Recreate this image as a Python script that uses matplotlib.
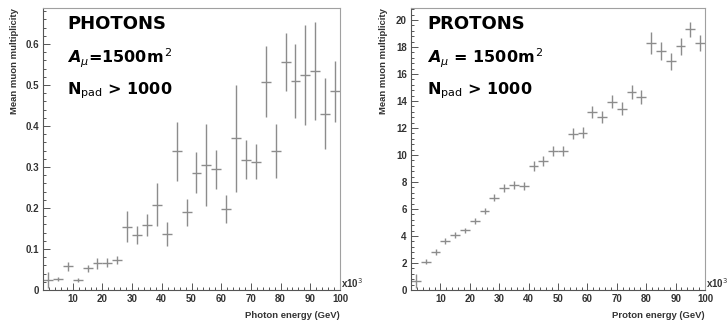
import numpy as np
import matplotlib
matplotlib.use("Agg")
import matplotlib.pyplot as plt
from matplotlib.ticker import MultipleLocator

# energy binning (x10^3 GeV), 30 bins from 0 to 100
bin_edges = np.linspace(0, 100, 31)
bin_centers = 0.5 * (bin_edges[:-1] + bin_edges[1:])
half_width = 0.5 * (bin_edges[1] - bin_edges[0])

photon_mean = [0.024, 0.027, 0.058, 0.024, 0.053, 0.065, 0.067, 0.073, 0.154, 0.134,
               0.158, 0.208, 0.137, 0.339, 0.190, 0.286, 0.306, 0.294, 0.197, 0.370,
               0.318, 0.313, 0.508, 0.339, 0.556, 0.510, 0.524, 0.535, 0.430, 0.485]
photon_err = [0.020, 0.005, 0.011, 0.005, 0.009, 0.013, 0.011, 0.010, 0.038, 0.022,
              0.027, 0.053, 0.030, 0.072, 0.033, 0.050, 0.100, 0.047, 0.034, 0.130,
              0.048, 0.042, 0.087, 0.066, 0.070, 0.090, 0.122, 0.120, 0.087, 0.074]

proton_mean = [0.65, 2.10, 2.82, 3.64, 4.08, 4.41, 5.12, 5.87, 6.83, 7.55,
               7.80, 7.70, 9.20, 9.58, 10.31, 10.31, 11.58, 11.66, 13.18, 12.83,
               13.94, 13.42, 14.65, 14.30, 18.28, 17.72, 16.93, 18.04, 19.31, 18.28]
proton_err = [0.50, 0.19, 0.20, 0.20, 0.20, 0.20, 0.22, 0.24, 0.27, 0.28,
              0.30, 0.30, 0.37, 0.37, 0.38, 0.38, 0.42, 0.42, 0.45, 0.45,
              0.48, 0.48, 0.50, 0.50, 0.82, 0.65, 0.60, 0.60, 0.55, 0.60]

x_ticks = [10, 20, 30, 40, 50, 60, 70, 80, 90, 100]

panels = [
    dict(mean=photon_mean, err=photon_err, ymax=0.688, major=0.1, minor=0.02,
         xlabel="Photon energy (GeV)", title="PHOTONS",
         area=r"$\mathbfit{A}_{\mu}$=1500m$^{\,2}$"),
    dict(mean=proton_mean, err=proton_err, ymax=20.89, major=2, minor=0.4,
         xlabel="Proton energy (GeV)", title="PROTONS",
         area=r"$\mathbfit{A}_{\mu}$ = 1500m$^{\,2}$"),
]

plt.rcParams["mathtext.fontset"] = "dejavusans"

fig = plt.figure(figsize=(7.27, 3.26), dpi=100)
rects = [[43 / 727, 36 / 326, 297 / 727, 282 / 326],
         [411 / 727, 36 / 326, 294 / 727, 282 / 326]]

for rect, p in zip(rects, panels):
    ax = fig.add_axes(rect)
    ax.errorbar(bin_centers, p["mean"], yerr=p["err"], xerr=half_width,
                fmt="none", ecolor="#8c8c8c", elinewidth=1.0, capsize=0)
    ax.set_xlim(0, 100)
    ax.set_ylim(0, p["ymax"])

    ax.set_xticks(x_ticks)
    ax.xaxis.set_minor_locator(MultipleLocator(2))
    ax.yaxis.set_major_locator(MultipleLocator(p["major"]))
    ax.yaxis.set_minor_locator(MultipleLocator(p["minor"]))
    if p["major"] < 1:
        ax.set_yticks(np.arange(0, 0.61, 0.1))
        ax.set_yticklabels(["0", "0.1", "0.2", "0.3", "0.4", "0.5", "0.6"])
        ax.yaxis.set_minor_locator(MultipleLocator(p["minor"]))
    ax.tick_params(which="both", direction="in", colors="#555555",
                   labelcolor="#333333", labelsize=7, width=0.7)
    ax.tick_params(which="major", length=5)
    ax.tick_params(which="minor", length=2.5)
    ax.tick_params(axis="x", pad=3)
    ax.tick_params(axis="y", pad=3)
    for lab in ax.get_xticklabels() + ax.get_yticklabels():
        lab.set_fontfamily("Liberation Sans")
        lab.set_fontweight("bold")

    for side in ["left", "bottom"]:
        ax.spines[side].set_color("#555555")
        ax.spines[side].set_linewidth(0.8)
    for side in ["top", "right"]:
        ax.spines[side].set_color("#a0a0a0")
        ax.spines[side].set_linewidth(0.8)

    ax.text(1.004, 0.0, r"x10$^3$", transform=ax.transAxes, ha="left", va="bottom",
            fontsize=7, color="#333333", family="Liberation Sans", fontweight="bold")

    # labels placed like ROOT: at the end of each axis
    x0, y0, w, h = rect
    fig.text(x0 + w, 1 - 316 / 326, p["xlabel"], ha="right", va="center",
             fontsize=6.8, color="#333333", family="Liberation Sans", fontweight="bold")
    fig.text(x0 - 28 / 727, y0 + h, "Mean muon multiplicity", rotation=90,
             ha="center", va="top", fontsize=6.8, color="#333333",
             family="Liberation Sans", fontweight="bold")

    tx = 24 / 297 if p["major"] < 1 else 16 / 294
    ax.text(tx, 0.9255, p["title"], transform=ax.transAxes, fontsize=13,
            fontweight="bold", va="baseline", ha="left", color="black")
    ax.text(tx, 0.805, p["area"], transform=ax.transAxes, fontsize=11.5,
            fontweight="bold", va="baseline", ha="left", color="black")
    ax.text(tx, 0.695, r"$\mathbf{N}_{\mathrm{pad}}$ > 1000", transform=ax.transAxes,
            fontsize=11.5, fontweight="bold", va="baseline", ha="left", color="black")

fig.savefig("out.png", dpi=100)
